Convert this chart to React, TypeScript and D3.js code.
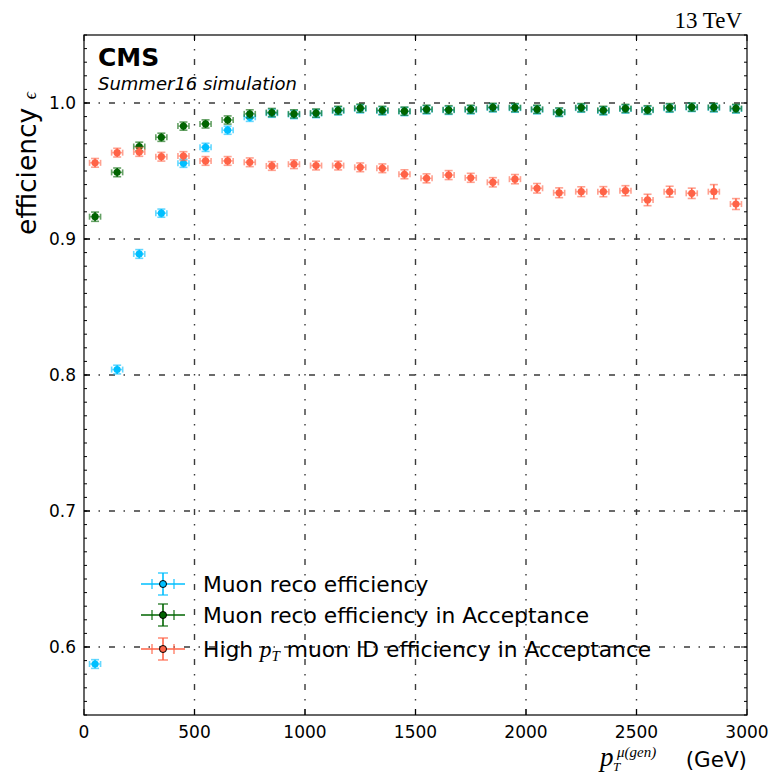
import React from "react";
import * as d3 from "d3";

// Generated-muon pT bin centres (GeV), 100 GeV wide bins
const BIN_CENTERS = [
  50, 150, 250, 350, 450, 550, 650, 750, 850, 950,
  1050, 1150, 1250, 1350, 1450, 1550, 1650, 1750, 1850, 1950,
  2050, 2150, 2250, 2350, 2450, 2550, 2650, 2750, 2850, 2950,
];
const BIN_HALF_WIDTH = 25;

// Muon reconstruction efficiency (all generated muons)
const RECO_EFF = [
  0.5875, 0.804, 0.889, 0.919, 0.9557, 0.9674, 0.98, 0.9895, 0.9925, 0.9915,
  0.9922, 0.9942, 0.9957, 0.9942, 0.9937, 0.995, 0.9946, 0.995, 0.9964, 0.9962,
  0.995, 0.993, 0.9962, 0.9942, 0.9956, 0.9946, 0.9962, 0.9967, 0.9964, 0.9956,
];
const RECO_ERR = [
  0.0032, 0.0032, 0.0032, 0.003, 0.003, 0.003, 0.003, 0.003, 0.003, 0.003,
  0.003, 0.003, 0.003, 0.003, 0.003, 0.003, 0.003, 0.003, 0.003, 0.003,
  0.003, 0.003, 0.003, 0.003, 0.003, 0.003, 0.003, 0.003, 0.003, 0.003,
];

// Muon reconstruction efficiency for muons inside the acceptance
const RECO_ACC_EFF = [
  0.9164, 0.949, 0.968, 0.9748, 0.983, 0.9846, 0.9875, 0.992, 0.993, 0.992,
  0.9926, 0.9946, 0.9962, 0.9946, 0.994, 0.9954, 0.995, 0.9954, 0.9968, 0.9966,
  0.9954, 0.9934, 0.9966, 0.9946, 0.996, 0.995, 0.9966, 0.997, 0.9968, 0.996,
];
const RECO_ACC_ERR = [
  0.0034, 0.0032, 0.0032, 0.003, 0.003, 0.003, 0.003, 0.003, 0.003, 0.003,
  0.003, 0.003, 0.003, 0.003, 0.003, 0.003, 0.003, 0.003, 0.003, 0.003,
  0.003, 0.003, 0.003, 0.003, 0.003, 0.003, 0.003, 0.003, 0.003, 0.003,
];

// High-pT muon ID efficiency for muons inside the acceptance
const HIGHPT_ID_EFF = [
  0.956, 0.9635, 0.964, 0.9605, 0.961, 0.9574, 0.9574, 0.9564, 0.9537, 0.955,
  0.954, 0.954, 0.9527, 0.952, 0.9476, 0.9446, 0.947, 0.945, 0.9417, 0.944,
  0.9373, 0.934, 0.9348, 0.9348, 0.9355, 0.9287, 0.9348, 0.9336, 0.9348, 0.9257,
];
const HIGHPT_ID_ERR = [
  0.0032, 0.0032, 0.0032, 0.0032, 0.0032, 0.0032, 0.0032, 0.0032, 0.0032, 0.0032,
  0.0032, 0.0032, 0.0032, 0.0032, 0.0033, 0.0033, 0.0033, 0.0033, 0.0034, 0.0034,
  0.0035, 0.0036, 0.0036, 0.0037, 0.0037, 0.0042, 0.004, 0.0038, 0.0052, 0.004,
];

const X_TICKS = [0, 500, 1000, 1500, 2000, 2500, 3000];
const Y_TICKS = [0.6, 0.7, 0.8, 0.9, 1.0];

const SERIES = [
  { name: "reco", color: "#00bfff", values: RECO_EFF, errors: RECO_ERR },
  { name: "recoAcc", color: "#006400", values: RECO_ACC_EFF, errors: RECO_ACC_ERR },
  { name: "highPtId", color: "#ff6347", values: HIGHPT_ID_EFF, errors: HIGHPT_ID_ERR },
];

const W = 773;
const H = 776;
const M = { left: 84, right: 747, top: 35, bottom: 715 };
const FONT = "'DejaVu Sans', sans-serif";
const MATH = "'Liberation Serif', 'DejaVu Serif', serif";

const x = d3.scaleLinear().domain([0, 3000]).range([M.left, M.right]);
const y = d3.scaleLinear().domain([0.55, 1.05]).range([M.bottom, M.top]);

function ErrPoint({ cx, cy, dy, color }: { cx: number; cy: number; dy: number; color: string }) {
  const dx = x(BIN_HALF_WIDTH) - x(0);
  const capY = 4;
  const capX = 3;
  return (
    <g>
      <g stroke={color} strokeWidth={1.6} opacity={0.6}>
        <line x1={cx - dx} x2={cx + dx} y1={cy} y2={cy} />
        <line x1={cx - dx} x2={cx - dx} y1={cy - capX} y2={cy + capX} />
        <line x1={cx + dx} x2={cx + dx} y1={cy - capX} y2={cy + capX} />
        <line x1={cx - capY} x2={cx + capY} y1={cy - dy} y2={cy - dy} />
        <line x1={cx - capY} x2={cx + capY} y1={cy + dy} y2={cy + dy} />
      </g>
      <line x1={cx} x2={cx} y1={cy - dy} y2={cy + dy} stroke={color} strokeWidth={1.6} />
      <circle cx={cx} cy={cy} r={3.6} fill={color} />
    </g>
  );
}

function LegendHandle({ cx, cy, color }: { cx: number; cy: number; color: string }) {
  return (
    <g>
      <g stroke={color} strokeWidth={1.6}>
        <line x1={cx - 22} x2={cx + 22} y1={cy} y2={cy} />
        <line x1={cx - 11} x2={cx - 11} y1={cy - 5} y2={cy + 5} opacity={0.7} />
        <line x1={cx + 11} x2={cx + 11} y1={cy - 5} y2={cy + 5} opacity={0.7} />
        <line x1={cx} x2={cx} y1={cy - 11} y2={cy + 11} />
        <line x1={cx - 5} x2={cx + 5} y1={cy - 11} y2={cy - 11} opacity={0.7} />
        <line x1={cx - 5} x2={cx + 5} y1={cy + 11} y2={cy + 11} opacity={0.7} />
      </g>
      <circle cx={cx} cy={cy} r={3.5} fill={color} stroke="#000" strokeWidth={1} />
    </g>
  );
}

export default function App() {
  const yMinor = d3.range(0.55, 1.0501, 0.01).map((v) => Math.round(v * 100) / 100);
  const gridDash = "6,8.5,1.5,9";
  const legendRows = [
    { color: SERIES[0].color, label: <tspan>Muon reco efficiency</tspan> },
    { color: SERIES[1].color, label: <tspan>Muon reco efficiency in Acceptance</tspan> },
    {
      color: SERIES[2].color,
      label: (
        <>
          <tspan>High </tspan>
          <tspan fontFamily={MATH} fontStyle="italic" fontSize={23}>p</tspan>
          <tspan fontFamily={MATH} fontStyle="italic" fontSize={15} dy={4}>T</tspan>
          <tspan dy={-4}> muon ID efficiency in Acceptance</tspan>
        </>
      ),
    },
  ];
  const legendY = [584, 615, 649];

  return (
    <svg
      width={W}
      height={H}
      style={{ position: "absolute", left: 0, top: 0, background: "#fff" }}
      fontFamily={FONT}
    >
      <rect x={0} y={0} width={W} height={H} fill="#fff" />

      {/* grid */}
      <g stroke="#3a3a3a" strokeWidth={1.4} strokeDasharray={gridDash}>
        {X_TICKS.filter((t) => t > 0 && t < 3000).map((t) => (
          <line key={"gx" + t} x1={x(t)} x2={x(t)} y1={M.bottom} y2={M.top} />
        ))}
        {Y_TICKS.map((t) => (
          <line key={"gy" + t} x1={M.left} x2={M.right} y1={y(t)} y2={y(t)} />
        ))}
      </g>

      {/* data */}
      {SERIES.map((s) => (
        <g key={s.name}>
          {BIN_CENTERS.map((c, i) => (
            <ErrPoint
              key={c}
              cx={x(c)}
              cy={y(s.values[i])}
              dy={y(s.values[i] - s.errors[i]) - y(s.values[i])}
              color={s.color}
            />
          ))}
        </g>
      ))}

      {/* ticks, inward on all sides */}
      <g stroke="#000" strokeWidth={1}>
        {X_TICKS.map((t) => (
          <g key={"tx" + t}>
            <line x1={x(t)} x2={x(t)} y1={M.bottom} y2={M.bottom - 6} />
            <line x1={x(t)} x2={x(t)} y1={M.top} y2={M.top + 6} />
          </g>
        ))}
        {Y_TICKS.map((t) => (
          <g key={"ty" + t}>
            <line x1={M.left} x2={M.left + 6} y1={y(t)} y2={y(t)} />
            <line x1={M.right} x2={M.right - 6} y1={y(t)} y2={y(t)} />
          </g>
        ))}
        {yMinor.map((t) => (
          <g key={"tm" + t}>
            <line x1={M.left} x2={M.left + 3} y1={y(t)} y2={y(t)} />
            <line x1={M.right} x2={M.right - 3} y1={y(t)} y2={y(t)} />
          </g>
        ))}
      </g>

      {/* frame */}
      <rect
        x={M.left}
        y={M.top}
        width={M.right - M.left}
        height={M.bottom - M.top}
        fill="none"
        stroke="#000"
        strokeWidth={1.2}
      />

      {/* tick labels */}
      <g fontSize={17} fill="#000">
        {X_TICKS.map((t) => (
          <text key={"lx" + t} x={x(t)} y={M.bottom + 23} textAnchor="middle">
            {t}
          </text>
        ))}
        {Y_TICKS.map((t) => (
          <text key={"ly" + t} x={M.left - 8} y={y(t) + 6} textAnchor="end">
            {d3.format(".1f")(t)}
          </text>
        ))}
      </g>

      {/* axis titles */}
      <text
        transform={`translate(36, 92) rotate(-90)`}
        textAnchor="end"
        fontSize={26.5}
        fill="#000"
      >
        <tspan>efficiency </tspan>
        <tspan fontFamily={MATH} fontStyle="italic" fontSize={18}>ϵ</tspan>
      </text>
      <g fill="#000">
        <text x={600} y={766} fontFamily={MATH} fontStyle="italic" fontSize={27}>p</text>
        <text x={613} y={771} fontFamily={MATH} fontStyle="italic" fontSize={13}>T</text>
        <text x={617} y={757} fontFamily={MATH} fontStyle="italic" fontSize={15}>μ(gen)</text>
        <text x={M.right} y={767} textAnchor="end" fontSize={21.5}>(GeV)</text>
      </g>

      {/* labels inside the frame */}
      <text x={98} y={66} fontSize={25} fontWeight="bold" fill="#000">CMS</text>
      <text x={98} y={90} fontSize={18} fontStyle="italic" fill="#000">Summer16 simulation</text>
      <text x={742} y={28} textAnchor="end" fontSize={23} fontFamily={MATH} fill="#000">13 TeV</text>

      {/* legend */}
      {legendRows.map((r, i) => (
        <g key={"lg" + i}>
          <LegendHandle cx={163} cy={legendY[i]} color={r.color} />
          <text x={203} y={legendY[i] + 8} fontSize={21.8} fill="#000">
            {r.label}
          </text>
        </g>
      ))}
    </svg>
  );
}
